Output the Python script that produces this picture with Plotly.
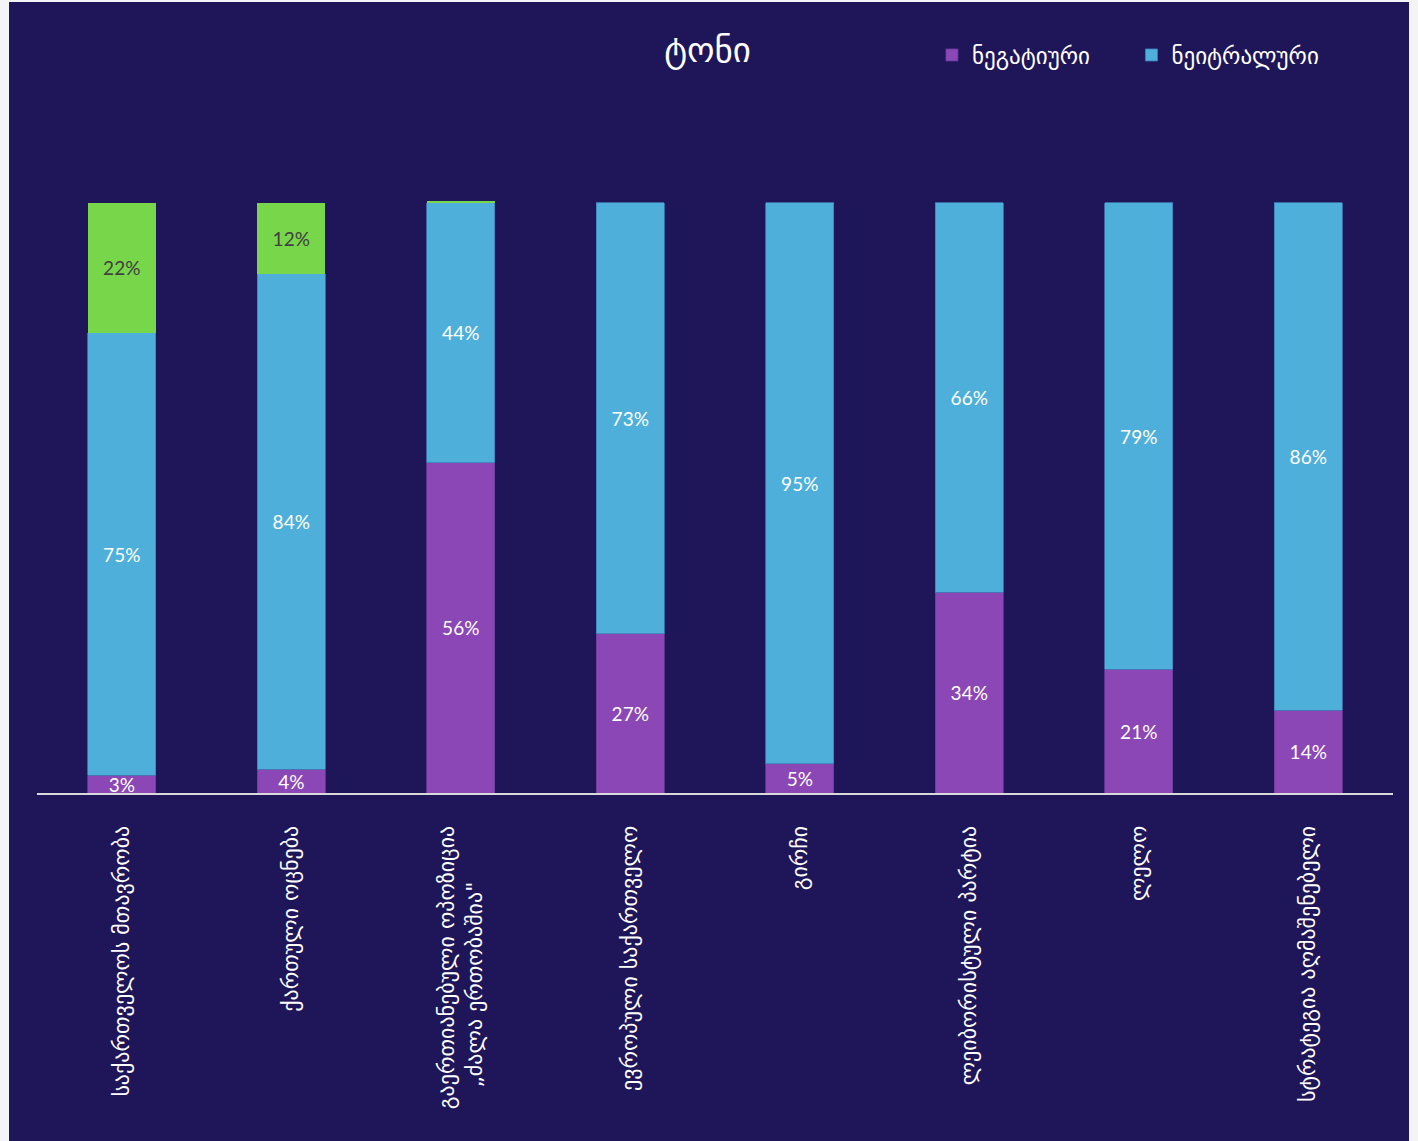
import plotly.graph_objects as go

NB = "\u00a0"
categories = [
    "საქართველოს მთავრობა",
    "ქართული ოცნება",
    "გაერთიანებული ოპოზიცია<br>„ძალა ერთობაშია\"" + NB * 8,
    "ევროპული საქართველო",
    "გირჩი",
    "ლეიბორისტული პარტია",
    "ლელო",
    "სტრატეგია აღმაშენებელი",
]
negative = [3, 4, 56, 27, 5, 34, 21, 14]
neutral = [75, 84, 44, 73, 95, 66, 79, 86]
positive = [22, 12, 0.4, 0, 0, 0, 0, 0]

BG = "#1F1659"
FONT = "Lato, DejaVu Sans, sans-serif"
GEO = "DejaVu Sans, sans-serif"


def labels(vals):
    return [f"{round(v)}%" if v >= 1 else "" for v in vals]


fig = go.Figure()
fig.add_trace(go.Bar(
    x=categories, y=negative, name="ნეგატიური" + NB * 5,
    marker=dict(color="#8B47B6", line=dict(color="#6A3A9A", width=0.8)),
    text=labels(negative), textposition="inside", insidetextanchor="middle",
    constraintext="none", textangle=0,
    textfont=dict(color="white", size=19, family=FONT),
))
fig.add_trace(go.Bar(
    x=categories, y=neutral, name="ნეიტრალური",
    marker=dict(color="#4EB0DA", line=dict(color="#3E7FB8", width=0.8)),
    text=labels(neutral), textposition="inside", insidetextanchor="middle",
    constraintext="none", textangle=0,
    textfont=dict(color="#FFFFFF", size=19, family=FONT),
))
fig.add_trace(go.Bar(
    x=categories, y=positive, name="პოზიტიური", showlegend=False,
    marker=dict(color="#78D64B", line=dict(width=0)),
    text=labels(positive), textposition="inside", insidetextanchor="middle",
    constraintext="none", textangle=0,
    textfont=dict(color="#404040", size=19, family=FONT),
))

fig.update_layout(
    barmode="stack",
    bargap=0.6,
    width=1400, height=1139,
    paper_bgcolor=BG, plot_bgcolor=BG,
    margin=dict(l=28, r=16, t=198, b=348),
    title=dict(text="ტონი", x=0.499, xanchor="center", y=0.958, yanchor="middle",
               font=dict(family=GEO, size=35, color="white")),
    legend=dict(orientation="h", x=0.66, xanchor="left", y=1.2445, yanchor="middle",
                font=dict(family=GEO, size=23, color="white"),
                bgcolor="rgba(0,0,0,0)", itemwidth=30, traceorder="normal"),
    xaxis=dict(
        tickangle=-90, showgrid=False, showline=True, linecolor="#D9D9D9", linewidth=2,
        tickfont=dict(family=GEO, size=22, color="white"), ticks="",
        ticklabelstandoff=22,
    ),
    yaxis=dict(range=[0, 100.5], visible=False, showgrid=False, zeroline=False),
)

fig.write_html(
    "out.html",
    post_script="document.body.style.margin='2px 0 0 9px';"
                "document.body.style.overflow='hidden';"
                "document.body.style.background='#F4F4F6';",
)
